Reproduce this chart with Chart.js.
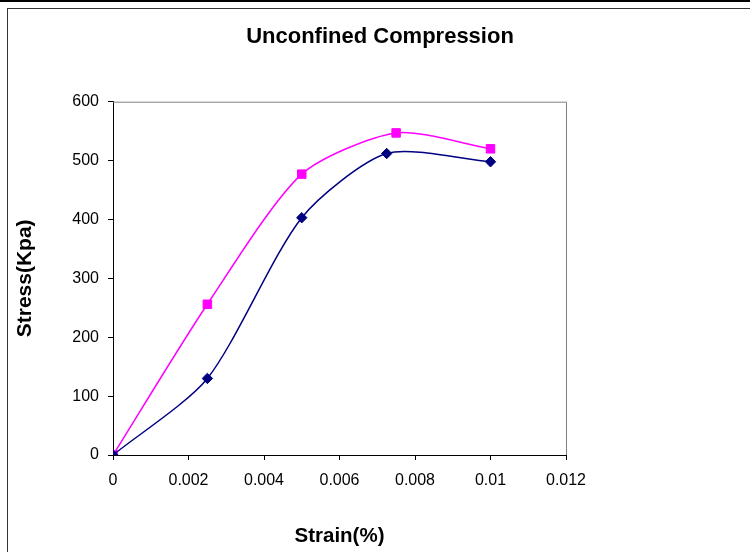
<!DOCTYPE html>
<html>
<head>
<meta charset="utf-8">
<script src="https://cdn.jsdelivr.net/npm/chart.js@4"></script>
<style>
    html, body { margin: 0; padding: 0; background: #fff; overflow: hidden; }
    body { width: 750px; height: 552px; position: relative; }
    #topBar { position: absolute; left: 0; top: 0; width: 750px; height: 2px; background: #000; }
    #frame { position: absolute; left: 7px; top: 8px; width: 760px; height: 560px;
             border-left: 1.5px solid #333; border-top: 1.5px solid #333; }
    #chartBox { position: absolute; left: 0; top: 0; width: 750px; height: 552px; }
</style>
</head>
<body>
<div id="topBar"></div>
<div id="frame"></div>
<div id="chartBox"><canvas id="stressChart"></canvas></div>
<script>
// strain (%) and stress (kPa)
var strainA = [0, 0.0025, 0.005, 0.00725, 0.01];
var stressA = [0, 130, 403, 512, 498];

var strainB = [0, 0.0025, 0.005, 0.0075, 0.01];
var stressB = [0, 256, 477, 547, 520];

var xTickValues = [0, 0.002, 0.004, 0.006, 0.008, 0.01, 0.012];
var yTickValues = [0, 100, 200, 300, 400, 500, 600];

var chartTitle = "Unconfined Compression";
var xTitle = "Strain(%)";
var yTitle = "Stress(Kpa)";

var FONT = "'Liberation Sans', Arial, sans-serif";

function toPoints(xs, ys) {
    var pts = [];
    for (var i = 0; i < xs.length; i++) {
        pts.push({ x: xs[i], y: ys[i] });
    }
    return pts;
}

// title and plot area border (top/right gray edge like Excel)
var decorPlugin = {
    id: "decor",
    beforeDatasetsDraw: function (chart) {
        var ctx = chart.ctx;
        var a = chart.chartArea;
        ctx.save();
        ctx.strokeStyle = "#808080";
        ctx.lineWidth = 1;
        ctx.beginPath();
        ctx.moveTo(a.left, a.top + 0.5);
        ctx.lineTo(a.right + 0.5, a.top + 0.5);
        ctx.lineTo(a.right + 0.5, a.bottom);
        ctx.stroke();
        ctx.restore();
    },
    afterDraw: function (chart) {
        var ctx = chart.ctx;
        ctx.save();
        ctx.font = "bold 22px " + FONT;
        ctx.fillStyle = "#000";
        ctx.textAlign = "center";
        ctx.textBaseline = "middle";
        ctx.fillText(chartTitle, 380, 37);
        ctx.restore();
    }
};

new Chart(document.getElementById("stressChart"), {
    type: "scatter",
    data: {
        datasets: [
            {
                label: "Series1",
                data: toPoints(strainA, stressA),
                showLine: true,
                borderColor: "#000080",
                backgroundColor: "#000080",
                borderWidth: 1.5,
                tension: 0.25,
                pointStyle: "rectRot",
                pointRadius: 5.2,
                pointBorderWidth: 1,
                pointBorderColor: "#000080",
                pointBackgroundColor: "#000080",
                order: 1,
            },
            {
                label: "Series2",
                data: toPoints(strainB, stressB),
                showLine: true,
                borderColor: "#ff00ff",
                backgroundColor: "#ff00ff",
                borderWidth: 1.5,
                tension: 0.25,
                pointStyle: "rect",
                pointRadius: 6,
                pointBorderWidth: 1,
                pointBorderColor: "#ff00ff",
                pointBackgroundColor: "#ff00ff",
                order: 2,
            },
        ],
    },
    options: {
        responsive: true,
        maintainAspectRatio: false,
        animation: false,
        layout: {
            padding: { left: 10, top: 101.7, right: 184, bottom: 0 },
        },
        plugins: {
            legend: { display: false },
            tooltip: { enabled: false },
        },
        scales: {
            x: {
                type: "linear",
                min: 0,
                max: 0.012,
                afterFit: function (scale) { scale.height = 97; },
                afterBuildTicks: function (scale) {
                    scale.ticks = xTickValues.map(function (v) { return { value: v }; });
                },
                grid: {
                    drawOnChartArea: false,
                    drawTicks: true,
                    tickLength: 5,
                    color: "#000",
                },
                border: { color: "#000", width: 1 },
                ticks: {
                    padding: 11,
                    color: "#000",
                    font: { family: FONT, size: 16 },
                    callback: function (v) { return String(parseFloat(Number(v).toFixed(4))); },
                },
                title: {
                    display: true,
                    text: xTitle,
                    color: "#000",
                    font: { family: FONT, size: 20.5, weight: "bold" },
                    padding: { top: 0, bottom: 3 },
                },
            },
            y: {
                type: "linear",
                min: 0,
                max: 600,
                afterFit: function (scale) { scale.width = 103; },
                afterBuildTicks: function (scale) {
                    scale.ticks = yTickValues.map(function (v) { return { value: v }; });
                },
                grid: {
                    drawOnChartArea: false,
                    drawTicks: true,
                    tickLength: 5,
                    color: "#000",
                },
                border: { color: "#000", width: 1 },
                ticks: {
                    padding: 9,
                    color: "#000",
                    font: { family: FONT, size: 16 },
                },
                title: {
                    display: true,
                    text: yTitle,
                    color: "#000",
                    font: { family: FONT, size: 21, weight: "bold" },
                    padding: { top: 3, bottom: 0 },
                },
            },
        },
    },
    plugins: [decorPlugin],
});
</script>
</body>
</html>
